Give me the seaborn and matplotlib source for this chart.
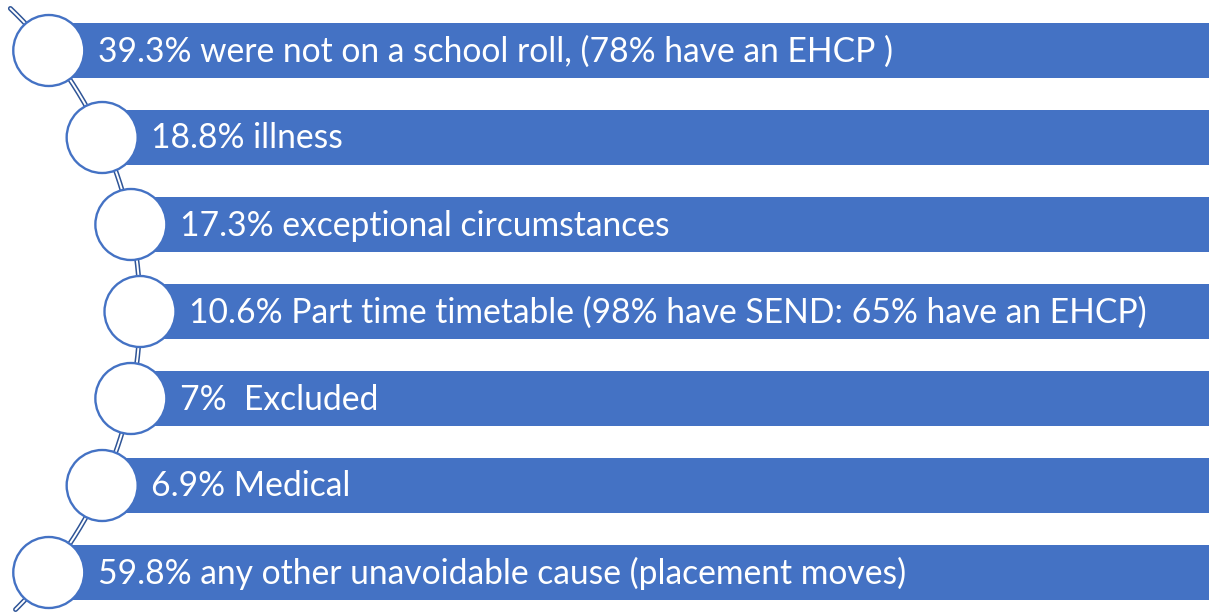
import numpy as np
import matplotlib.pyplot as plt
from matplotlib.patches import Circle
import seaborn as sns

# items of the list, top to bottom
labels = [
    "39.3% were not on a school roll, (78% have an EHCP )",
    "18.8% illness",
    "17.3% exceptional circumstances",
    "10.6% Part time timetable (98% have SEND: 65% have an EHCP)",
    "7%  Excluded",
    "6.9% Medical",
    "59.8% any other unavoidable cause (placement moves)",
]

BAR_BLUE = "#4472C4"
LINE_BLUE = "#2F5597"

sns.set_theme(style="white")
plt.rcParams['font.family'] = ['Lato', 'DejaVu Sans']

fig = plt.figure(figsize=(12.13, 6.16), dpi=100)
ax = fig.add_axes([0, 0, 1, 1])
ax.set_xlim(0, 1213)
ax.set_ylim(616, 0)
ax.axis("off")

# layout: rows spaced evenly, circles sit on an arc bulging to the right
n = len(labels)
row_y = 50.5 + 87 * np.arange(n)
mid_y = row_y[n // 2]
arc_r = 419
arc_cx = 140 - arc_r
circ_x = arc_cx + np.sqrt(arc_r ** 2 - (row_y - mid_y) ** 2)

# double connector line along the arc
t = np.linspace(-303, 298, 200)
arc_x = arc_cx + np.sqrt(arc_r ** 2 - t ** 2)
for c, w, z in [(LINE_BLUE, 3.6, 1), ("white", 1.4, 1.5)]:
    sns.lineplot(x=arc_x, y=mid_y + t, sort=False, estimator=None,
                 errorbar=None, ax=ax, color=c, lw=w, zorder=z)

bar_right = 1209
ax.barh(row_y, bar_right - circ_x, left=circ_x, height=55,
        color=BAR_BLUE, edgecolor="none", zorder=2)

for x, y, lab in zip(circ_x, row_y, labels):
    ax.add_patch(Circle((x, y), 35.5, facecolor="white", edgecolor=BAR_BLUE,
                        lw=1.7, zorder=3))
    ax.text(x + 49, y + 1, lab, color="white", fontsize=24.2,
            va="center", ha="left", zorder=4)

fig.savefig("out.png", dpi=100)
